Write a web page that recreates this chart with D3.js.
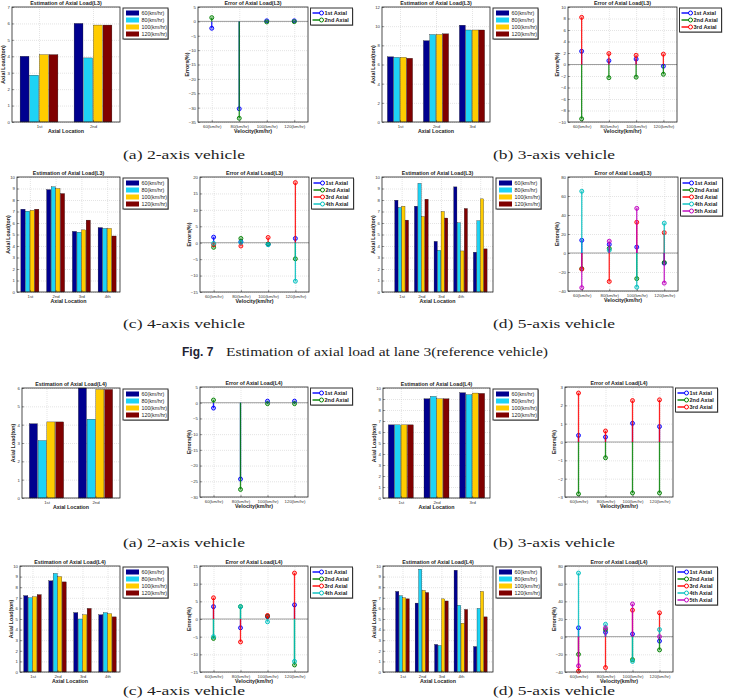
<!DOCTYPE html>
<html lang="en">
<head>
<meta charset="UTF-8">
<title>Estimation of axial load</title>
<script src="https://cdnjs.cloudflare.com/ajax/libs/d3/7.8.5/d3.min.js"></script>
<style>
  body { margin: 0; background: #fff; }
  svg text { font-family: "Liberation Sans", Arial, sans-serif; }
  .tick text { font-size: 4.3px; fill: #333; }
  .caption { font-family: "Liberation Serif", "DejaVu Serif", serif; font-size: 12.5px; fill: #222; }
</style>
</head>
<body>
<script>
// ---------- data ----------
const speeds = ["60(km/hr)", "80(km/hr)", "100(km/hr)", "120(km/hr)"];
const axleLabels = ["1st", "2nd", "3rd", "4th", ""];
const axialNames = ["1st Axial", "2nd Axial", "3rd Axial", "4th Axial", "5th Axial"];

// estimated axial load (ton): one row per axle, one value per speed
const l3Load2 = [[4.0, 2.85, 4.1, 4.1], [6.0, 3.9, 5.9, 5.9]];
const l3Load3 = [[6.8, 6.75, 6.75, 6.65], [8.48, 9.13, 9.13, 9.2], [10.1, 9.6, 9.6, 9.6]];
const l3Load4 = [[7.2, 7.03, 7.1, 7.2], [8.9, 9.15, 9.0, 8.56], [5.27, 5.2, 5.4, 6.25], [5.6, 5.53, 5.53, 4.87]];
const l3Load5 = [[7.98, 7.35, 7.46, 6.25], [7.46, 9.45, 6.57, 8.07], [4.4, 3.63, 7.0, 6.43], [9.14, 6.02, 3.57, 7.26], [3.46, 6.2, 8.1, 3.75]];
const l4Load2 = [[4.05, 3.13, 4.15, 4.15], [6.0, 4.3, 5.92, 5.92]];
const l4Load3 = [[6.65, 6.65, 6.65, 6.65], [9.02, 9.24, 9.02, 9.02], [9.57, 9.39, 9.54, 9.51]];
const l4Load4 = [[7.2, 7.0, 7.1, 7.3], [8.6, 9.3, 9.0, 8.5], [5.6, 5.0, 5.4, 6.0], [5.4, 5.6, 5.5, 5.2]];
const l4Load5 = [[7.6, 7.2, 7.0, 6.9], [6.5, 9.7, 7.7, 7.5], [2.6, 2.5, 6.9, 6.7], [9.6, 6.3, 4.6, 5.9], [2.4, 6.0, 7.6, 5.2]];

// error (%): one row per axial, one value per speed
const l3Err2 = [[-2.4, -30.4, 0.2, 0.2], [1.3, -33.7, -0.2, -0.1]];
const l3Err3 = [[2.3, 0.66, 0.95, -0.3], [-9.45, -2.3, -2.2, -1.7], [8.2, 1.9, 1.6, 1.8]];
const l3Err4 = [[1.7, 0.3, -0.5, 1.3], [-1.4, 1.3, -0.4, -4.9], [-0.6, -1.0, 1.6, 18.3], [-0.2, 0.1, -0.6, -11.7]];
const l3Err5 = [[13.4, 9, 6.2, -10.7], [-16.5, 4.8, -27, -10], [-17, -30, 32.4, 21.4], [65, 3, -36, 31.4], [-36.5, 12.4, 47, -31.7]];
const l4Err2 = [[-1.7, -24.3, 0.5, 0.5], [0.85, -27.6, -0.3, -0.3]];
const l4Err3 = [[0.36, 0.27, 1.02, 0.84], [-2.83, -0.86, -2.78, -2.78], [2.67, 0.6, 2.26, 2.3]];
const l4Err4 = [[3.5, -2.5, 0.7, 4], [-5.5, 3.5, 0.8, -13], [6, -6.5, 1, 13], [-5, 3.5, -0.8, -12]];
const l4Err5 = [[10, 5, 3, -5], [-20, 8, -26, -15], [-39, -35, 30, 27], [72, 14, -28, 8], [-33, 10, 37, 0]];

// ---------- layout ----------
const barColors = ["#00008f", "#1ed3f5", "#ffcc00", "#800000"];
const stemColors = ["#0000ff", "#008000", "#ff0000", "#00bfbf", "#bf00bf"];

const svg = d3.select("body").append("svg")
  .attr("width", 729).attr("height", 700).style("display", "block");
svg.append("rect").attr("width", 729).attr("height", 700).attr("fill", "#fff");

function frame(g, x, y, xt, yt, w, h) {
  // dotted grid
  g.append("g").call(d3.axisLeft(y).tickValues(yt).tickSize(-w).tickFormat(""))
    .call(a => a.select(".domain").remove())
    .selectAll("line").attr("stroke", "#c8c8c8").attr("stroke-dasharray", "1,1").attr("stroke-width", 0.5);
  g.append("g").attr("transform", `translate(0,${h})`)
    .call(d3.axisBottom(x).tickValues(xt).tickSize(h).tickFormat(""))
    .call(a => a.select(".domain").remove())
    .selectAll("line").attr("y2", -h).attr("stroke", "#c8c8c8").attr("stroke-dasharray", "1,1").attr("stroke-width", 0.5);
}

function axes(g, x, y, xt, yt, w, h, xfmt, yfmt) {
  g.append("g").attr("transform", `translate(0,${h})`)
    .call(d3.axisBottom(x).tickValues(xt).tickSize(-2).tickPadding(2.5).tickFormat(xfmt))
    .call(a => a.select(".domain").remove())
    .call(a => a.selectAll("line").attr("stroke", "#333").attr("stroke-width", 0.5));
  g.append("g")
    .call(d3.axisLeft(y).tickValues(yt).tickSize(-2).tickPadding(2).tickFormat(yfmt))
    .call(a => a.select(".domain").remove())
    .call(a => a.selectAll("line").attr("stroke", "#333").attr("stroke-width", 0.5));
  g.append("rect").attr("width", w).attr("height", h)
    .attr("fill", "none").attr("stroke", "#222").attr("stroke-width", 0.8);
}

function labels(g, w, h, title, xl, yl, yOff) {
  g.append("text").attr("x", w / 2).attr("y", -2.5).attr("text-anchor", "middle")
    .attr("font-size", 5.3).attr("font-weight", "bold").attr("fill", "#222").text(title);
  g.append("text").attr("x", w / 2).attr("y", h + 11).attr("text-anchor", "middle")
    .attr("font-size", 5.3).attr("font-weight", "bold").attr("fill", "#222").text(xl);
  g.append("text").attr("transform", `translate(${-yOff},${h / 2}) rotate(-90)`)
    .attr("text-anchor", "middle").attr("font-size", 5.3).attr("font-weight", "bold")
    .attr("fill", "#222").text(yl);
}

function legendBox(lx, ly, rows, bw) {
  const lg = svg.append("g").attr("transform", `translate(${lx},${ly})`);
  const bh = rows * 7 + 3;
  lg.append("rect").attr("x", 0.8).attr("y", 0.8).attr("width", bw).attr("height", bh).attr("fill", "#888");
  lg.append("rect").attr("width", bw).attr("height", bh)
    .attr("fill", "#fff").attr("stroke", "#333").attr("stroke-width", 1);
  return lg;
}

function barPanel(p) {
  const [x0, y0, x1, y1] = p.box;
  const w = x1 - x0, h = y1 - y0, n = p.data.length;
  const g = svg.append("g").attr("transform", `translate(${x0},${y0})`);
  const x = d3.scaleLinear().domain(p.xDomain || [0.5, n + 0.5]).range([0, w]);
  const y = d3.scaleLinear().domain([0, p.yMax]).range([h, 0]);
  const inner = d3.scaleBand().domain(speeds).range([-0.35, 0.35]).paddingInner(0.08);
  const groups = d3.range(1, n + 1);
  const yt = d3.range(0, p.yMax + 1e-9, p.yStep);
  frame(g, x, y, groups, yt, w, h);
  const cells = p.data.flatMap((row, i) => row.map((v, j) => ({ i, j, v })));
  g.selectAll("rect.bar").data(cells).join("rect").attr("class", "bar")
    .attr("x", d => x(d.i + 1 + inner(speeds[d.j])))
    .attr("width", x(inner.bandwidth()) - x(0))
    .attr("y", d => y(d.v)).attr("height", d => h - y(d.v))
    .attr("fill", d => barColors[d.j]).attr("stroke", "#111").attr("stroke-width", 0.3);
  axes(g, x, y, groups, yt, w, h, i => axleLabels[i - 1], d3.format("d"));
  labels(g, w, h, p.title, "Axial Location", "Axial Load(ton)", 7);
  const lg = legendBox(x1 + 3, y0 + 1, 4, 45);
  speeds.forEach((s, j) => {
    lg.append("rect").attr("x", 3).attr("y", 2.5 + j * 7).attr("width", 13).attr("height", 5).attr("fill", barColors[j]);
    lg.append("text").attr("x", 18.5).attr("y", 7 + j * 7).attr("font-size", 5.3).attr("fill", "#222").text(s);
  });
}

function stemPanel(p) {
  const [x0, y0, x1, y1] = p.box;
  const w = x1 - x0, h = y1 - y0;
  const g = svg.append("g").attr("transform", `translate(${x0},${y0})`);
  const x = d3.scaleLinear().domain([0.5, 4.5]).range([0, w]);
  const y = d3.scaleLinear().domain(p.yDomain).range([h, 0]);
  const xt = [1, 2, 3, 4];
  const yt = d3.range(p.yDomain[0], p.yDomain[1] + 1e-9, p.yStep);
  frame(g, x, y, xt, yt, w, h);
  g.append("line").attr("x1", 0).attr("x2", w).attr("y1", y(0)).attr("y2", y(0))
    .attr("stroke", "#777").attr("stroke-width", 0.7);
  p.data.forEach((row, k) => {
    const s = g.append("g");
    s.selectAll("line").data(row).join("line")
      .attr("x1", (d, j) => x(j + 1)).attr("x2", (d, j) => x(j + 1))
      .attr("y1", y(0)).attr("y2", d => y(d))
      .attr("stroke", stemColors[k]).attr("stroke-width", 1.3).attr("opacity", 0.85);
    s.selectAll("circle").data(row).join("circle")
      .attr("cx", (d, j) => x(j + 1)).attr("cy", d => y(d)).attr("r", 2)
      .attr("fill", stemColors[k]).attr("fill-opacity", 0.3)
      .attr("stroke", stemColors[k]).attr("stroke-width", 0.9);
  });
  axes(g, x, y, xt, yt, w, h, i => speeds[i - 1], d3.format("d"));
  labels(g, w, h, p.title, "Velocity(km/hr)", "Errors(%)", 9);
  const lg = legendBox(x1 + 2.5, y0 + 1, p.data.length, 42);
  p.data.forEach((row, k) => {
    lg.append("line").attr("x1", 2).attr("x2", 11).attr("y1", 5 + k * 7).attr("y2", 5 + k * 7)
      .attr("stroke", stemColors[k]).attr("stroke-width", 1.4);
    lg.append("circle").attr("cx", 11).attr("cy", 5 + k * 7).attr("r", 2)
      .attr("fill", "#fff").attr("stroke", stemColors[k]).attr("stroke-width", 1);
    lg.append("text").attr("x", 14).attr("y", 7 + k * 7).attr("font-size", 5.5)
      .attr("font-weight", "bold").attr("fill", "#222").text(axialNames[k]);
  });
}

const t3b = "Estimation of Axial Load(L3)", t3e = "Error of Axial Load(L3)";
const t4b = "Estimation of Axial Load(L4)", t4e = "Error of Axial Load(L4)";

barPanel({ data: l3Load2, title: t3b, box: [12, 7, 120, 122], yMax: 7, yStep: 1 });
stemPanel({ data: l3Err2, title: t3e, box: [198, 7, 308, 122], yDomain: [-35, 5], yStep: 5 });
barPanel({ data: l3Load3, title: t3b, box: [382, 7, 490, 122], yMax: 12, yStep: 2 });
stemPanel({ data: l3Err3, title: t3e, box: [568, 7, 677, 122], yDomain: [-10, 10], yStep: 2 });

barPanel({ data: l3Load4, title: t3b, box: [17, 177, 120, 292], yMax: 10, yStep: 1 });
stemPanel({ data: l3Err4, title: t3e, box: [200, 177, 309, 292], yDomain: [-15, 20], yStep: 5 });
barPanel({ data: l3Load5, title: t3b, box: [382, 177, 493, 292], yMax: 10, yStep: 1, xDomain: [0, 5.65] });
stemPanel({ data: l3Err5, title: t3e, box: [568, 177, 678, 291], yDomain: [-40, 80], yStep: 20 });

barPanel({ data: l4Load2, title: t4b, box: [22, 388, 120, 498], yMax: 6, yStep: 1 });
stemPanel({ data: l4Err2, title: t4e, box: [200, 387, 308, 497], yDomain: [-30, 5], yStep: 5 });
barPanel({ data: l4Load3, title: t4b, box: [383, 388, 490, 498], yMax: 10, yStep: 1 });
stemPanel({ data: l4Err3, title: t4e, box: [565, 387, 673, 497], yDomain: [-3, 3], yStep: 1 });

barPanel({ data: l4Load4, title: t4b, box: [20, 566, 120, 672], yMax: 10, yStep: 1 });
stemPanel({ data: l4Err4, title: t4e, box: [200, 566, 308, 672], yDomain: [-15, 15], yStep: 5 });
barPanel({ data: l4Load5, title: t4b, box: [383, 566, 493, 672], yMax: 10, yStep: 1, xDomain: [0, 5.65] });
stemPanel({ data: l4Err5, title: t4e, box: [565, 566, 673, 672], yDomain: [-40, 80], yStep: 20 });

// ---------- captions ----------
function caption(x, y, s) {
  svg.append("text").attr("class", "caption").attr("x", x).attr("y", y)
    .attr("textLength", 122).attr("lengthAdjust", "spacingAndGlyphs").text(s);
}
caption(123, 159, "(a) 2-axis vehicle");
caption(493, 159, "(b) 3-axis vehicle");
caption(123, 328, "(c) 4-axis vehicle");
caption(493, 328, "(d) 5-axis vehicle");
caption(123, 547, "(a) 2-axis vehicle");
caption(493, 547, "(b) 3-axis vehicle");
caption(123, 695, "(c) 4-axis vehicle");
caption(493, 695, "(d) 5-axis vehicle");

const fig = svg.append("text").attr("y", 356).attr("font-size", 12);
fig.append("tspan").attr("x", 182).attr("font-weight", "bold")
  .attr("font-family", "Liberation Sans, Arial, sans-serif").attr("fill", "#223").text("Fig. 7");
fig.append("tspan").attr("x", 226).attr("class", "caption")
  .attr("textLength", 322).attr("lengthAdjust", "spacingAndGlyphs")
  .text("Estimation of axial load at lane 3(reference vehicle)");
</script>
</body>
</html>
